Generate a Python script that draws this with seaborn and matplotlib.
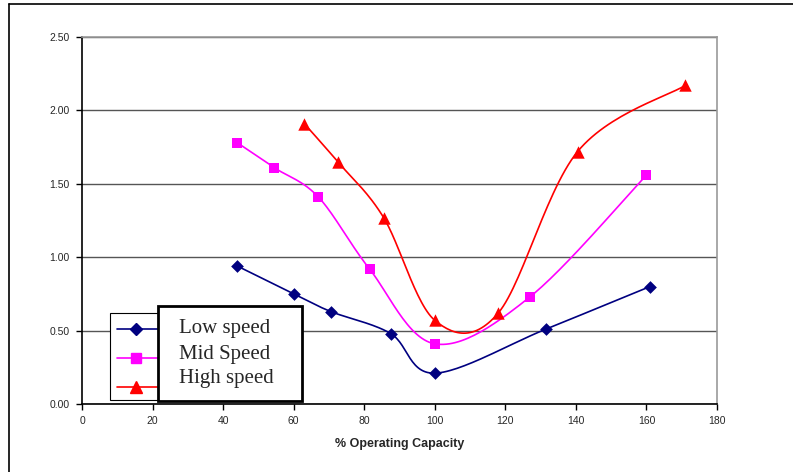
import numpy as np
import pandas as pd
import matplotlib
matplotlib.use("Agg")
import matplotlib.pyplot as plt
from matplotlib.patches import Rectangle
from matplotlib.lines import Line2D
import seaborn as sns

# ---- data ----
low_x = [44, 60, 70.5, 87.5, 100, 131.5, 161]
low_y = [0.94, 0.75, 0.63, 0.48, 0.21, 0.51, 0.80]
mid_x = [44, 54.5, 67, 81.5, 100, 127, 160]
mid_y = [1.78, 1.61, 1.41, 0.92, 0.41, 0.73, 1.56]
high_x = [63, 72.5, 85.5, 100, 118, 140.5, 171]
high_y = [1.91, 1.65, 1.27, 0.57, 0.62, 1.72, 2.17]
series_names = ["Low speed", "Mid Speed", "High speed"]
x_ticks = [0, 20, 40, 60, 80, 100, 120, 140, 160, 180]
y_ticks = [0.0, 0.5, 1.0, 1.5, 2.0, 2.5]
x_label = "% Operating Capacity"

colors = ["#000080", "#FF00FF", "#FF0000"]
markers = ["D", "s", "^"]
msizes = [42, 60, 80]


def smooth(xs, ys, n=30):
    p = np.column_stack([xs, ys]).astype(float)
    pts = np.vstack([p[0], p, p[-1]])
    out = []
    t = np.linspace(0, 1, n)[:, None]
    for i in range(1, len(pts) - 2):
        p0, p1, p2, p3 = pts[i - 1], pts[i], pts[i + 1], pts[i + 2]
        c1 = p1 + (p2 - p0) / 6.0
        c2 = p2 - (p3 - p1) / 6.0
        seg = ((1 - t) ** 3) * p1 + 3 * ((1 - t) ** 2) * t * c1 + 3 * (1 - t) * t ** 2 * c2 + t ** 3 * p2
        out.append(seg if i == 1 else seg[1:])
    a = np.vstack(out)
    return a[:, 0], a[:, 1]


sns.set_style("white")
plt.rcParams["font.family"] = ["Liberation Sans", "DejaVu Sans"]

fig = plt.figure(figsize=(7.93, 4.72), dpi=100)
W, H = 793, 472
ax = fig.add_axes([82 / W, 1 - 404 / H, (717 - 82) / W, (404 - 37) / H])

data = [(low_x, low_y), (mid_x, mid_y), (high_x, high_y)]
for i, (xs, ys) in enumerate(data):
    sx, sy = smooth(xs, ys)
    df_line = pd.DataFrame({"x": sx, "y": sy})
    sns.lineplot(data=df_line, x="x", y="y", sort=False, estimator=None,
                 color=colors[i], lw=1.2, ax=ax, zorder=3)
    df_pts = pd.DataFrame({"x": xs, "y": ys})
    sns.scatterplot(data=df_pts, x="x", y="y", marker=markers[i], s=msizes[i],
                    color=colors[i], edgecolor=colors[i], linewidth=0, ax=ax, zorder=4)

ax.set_xlim(0, 180)
ax.set_ylim(0, 2.5)
ax.set_xticks(x_ticks)
ax.set_yticks(y_ticks)
ax.set_xticklabels([str(v) for v in x_ticks], fontsize=7.5)
ax.set_yticklabels([f"{v:.2f}" for v in y_ticks], fontsize=7.5)
ax.set_xlabel(x_label, fontsize=9, fontweight="bold", labelpad=8)
ax.set_ylabel("")
ax.yaxis.grid(True, color="#555555", lw=1.0)
ax.xaxis.grid(False)
ax.set_axisbelow(True)
for s in ["top", "right"]:
    ax.spines[s].set_color("#999999")
    ax.spines[s].set_linewidth(1.2)
for s in ["left", "bottom"]:
    ax.spines[s].set_color("black")
    ax.spines[s].set_linewidth(1.2)
ax.tick_params(axis="both", which="major", direction="out", length=4, width=1,
               color="black", left=True, bottom=True, pad=5)

# figure frame lines (top and left)
fig.add_artist(Line2D([9 / W, 1], [1 - 4 / H, 1 - 4 / H], color="black", lw=1.2, transform=fig.transFigure))
fig.add_artist(Line2D([9 / W, 9 / W], [0, 1 - 4 / H], color="black", lw=1.2, transform=fig.transFigure))


def fx(px):
    return px / W


def fy(py):
    return 1 - py / H


# legend outer box with line samples
fig.add_artist(Rectangle((fx(110), fy(400)), (180 - 110) / W, (400 - 313) / H,
                         transform=fig.transFigure, facecolor="white", edgecolor="black", lw=0.8, zorder=10))
for i, yy in enumerate([329, 358, 387]):
    fig.add_artist(Line2D([fx(117), fx(165)], [fy(yy), fy(yy)], color=colors[i], lw=1.2,
                          transform=fig.transFigure, zorder=11))
    fig.add_artist(Line2D([fx(136)], [fy(yy)], color=colors[i], marker=markers[i],
                          markersize=[6, 7, 8][i], linestyle="none",
                          transform=fig.transFigure, zorder=12))

# overlaid text box
fig.add_artist(Rectangle((fx(158), fy(401)), (302 - 158) / W, (401 - 306) / H,
                         transform=fig.transFigure, facecolor="white", edgecolor="black", lw=2, zorder=13))
for name, yy in zip(series_names, [329, 354, 378]):
    fig.text(fx(179), fy(yy), name, fontsize=15, family=["Liberation Serif", "DejaVu Serif"],
             va="center", ha="left", zorder=14)

fig.savefig("out.png", dpi=100)
